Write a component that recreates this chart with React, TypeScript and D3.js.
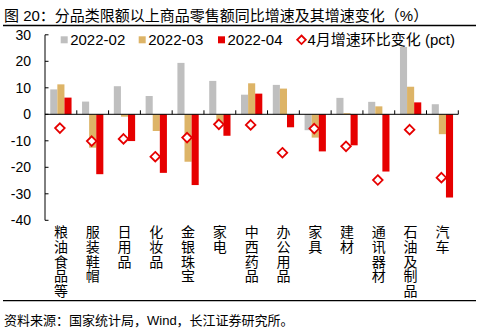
import React from "react";
import * as d3 from "d3";

const categories = ["粮油食品等", "服装鞋帽", "日用品", "化妆品", "金银珠宝", "家电", "中西药品", "办公用品", "家具", "建材", "通讯器材", "石油及制品", "汽车"];
const seriesNames = ["2022-02", "2022-03", "2022-04"];
const feb = [9.4, 4.8, 10.6, 6.9, 19.4, 12.6, 7.4, 11.1, -6.0, 6.2, 4.7, 25.4, 3.8];
const mar = [11.3, -12.6, -0.9, -6.3, -17.9, -4.3, 11.7, 9.7, -8.8, 0.4, 3.0, 10.4, -7.5];
const apr = [6.3, -22.6, -10.1, -22.1, -26.7, -8.1, 7.8, -4.9, -14.0, -11.7, -21.6, 4.5, -31.4];
const change = [-5.2, -10.1, -9.3, -16.0, -8.8, -3.8, -4.0, -14.5, -5.4, -12.1, -24.8, -5.8, -23.9];
const changeName = "4月增速环比变化 (pct)";
const yTicks = [30, 20, 10, 0, -10, -20, -30, -40];
const title = "图 20：分品类限额以上商品零售额同比增速及其增速变化（%）";
const source = "资料来源：国家统计局，Wind，长江证券研究所。";

const colors = ["#BFBFBF", "#DDB467", "#E60000"];
const FONT = "'Liberation Sans', Arial, 'Noto Sans CJK SC', sans-serif";

export default function App() {
  const W = 491, H = 333;
  const x0 = 45, x1 = 458.3;
  const y = d3.scaleLinear().domain([-40, 30]).range([220.3, 34.8]);
  const x = d3.scaleBand<string>().domain(categories).range([x0, x1]).paddingInner(0).paddingOuter(0);
  const inner = d3.scaleBand<string>().domain(seriesNames).range([0, 21.3]);
  const groupOffset = (x.bandwidth() - 21.3) / 2;
  const series = [feb, mar, apr];
  const diamond = d3.symbol().type(d3.symbolDiamond2 ?? d3.symbolSquare).size(50)();
  const dpath = (cx: number, cy: number, r: number) => `M${cx},${cy - r}L${cx + r},${cy}L${cx},${cy + r}L${cx - r},${cy}Z`;

  return (
    <svg width={W} height={H} style={{ position: "absolute", left: 0, top: 0, background: "#fff" }} fontFamily={FONT}>
      <rect width={W} height={H} fill="#fff" />
      <text x={4} y={20.5} fontSize={15} fill="#000">{title}</text>
      <line x1={3} x2={476} y1={25.5} y2={25.5} stroke="#000" strokeWidth={1.3} />

      {/* legend */}
      {seriesNames.map((n, i) => {
        const lx = [60.7, 138.7, 218][i];
        return (
          <g key={n}>
            <rect x={lx} y={36.3} width={7} height={7} fill={colors[i]} />
            <text x={lx + 9.5} y={44.8} fontSize={15} fill="#000">{n}</text>
          </g>
        );
      })}
      <path d={dpath(301.5, 39.8, 4.3)} fill="#fff" stroke={colors[2]} strokeWidth={1.8} />
      <text x={307.5} y={44.8} fontSize={15} fill="#000">{changeName}</text>

      {/* bars */}
      {series.map((vals, si) =>
        vals.map((v, ci) => {
          const bx = (x(categories[ci]) as number) + groupOffset + (inner(seriesNames[si]) as number);
          const top = y(Math.max(0, v));
          const h = Math.abs(y(v) - y(0));
          return <rect key={`${si}-${ci}`} x={bx} y={top} width={inner.bandwidth()} height={h} fill={colors[si]} />;
        })
      )}

      {/* axes */}
      <line x1={x0} x2={x0} y1={y(30)} y2={y(-40)} stroke="#000" strokeWidth={1} />
      {yTicks.map((t) => (
        <g key={t}>
          <line x1={x0} x2={x0 + 3.5} y1={y(t)} y2={y(t)} stroke="#000" strokeWidth={1} />
          <text x={31} y={y(t)} dy="0.36em" textAnchor="end" fontSize={14} fill="#000">{t}</text>
        </g>
      ))}
      <line x1={x0} x2={x1} y1={y(0)} y2={y(0)} stroke="#000" strokeWidth={1} />
      {categories.map((c, i) => {
        const tx = (x(c) as number) + x.bandwidth();
        return <line key={c} x1={tx} x2={tx} y1={y(0)} y2={y(0) - 4} stroke="#000" strokeWidth={1} />;
      })}

      {/* diamonds */}
      {change.map((v, i) => {
        const cx = (x(categories[i]) as number) + x.bandwidth() / 2 - 1;
        return <path key={i} d={dpath(cx, y(v), 4.8)} fill="#fff" stroke={colors[2]} strokeWidth={1.8} />;
      })}

      {/* category labels vertical */}
      {categories.map((c) => {
        const cx = (x(c) as number) + x.bandwidth() / 2;
        return (
          <text key={c} fontSize={14} fill="#000" textAnchor="middle">
            {Array.from(c).map((ch, k) => (
              <tspan key={k} x={cx} y={225 + k * 14.6 + 7.3} dominantBaseline="central">{ch}</tspan>
            ))}
          </text>
        );
      })}

      <line x1={3} x2={476} y1={300.7} y2={300.7} stroke="#000" strokeWidth={1.3} />
      <text x={4} y={325} fontSize={13} fill="#000">{source}</text>
    </svg>
  );
}
